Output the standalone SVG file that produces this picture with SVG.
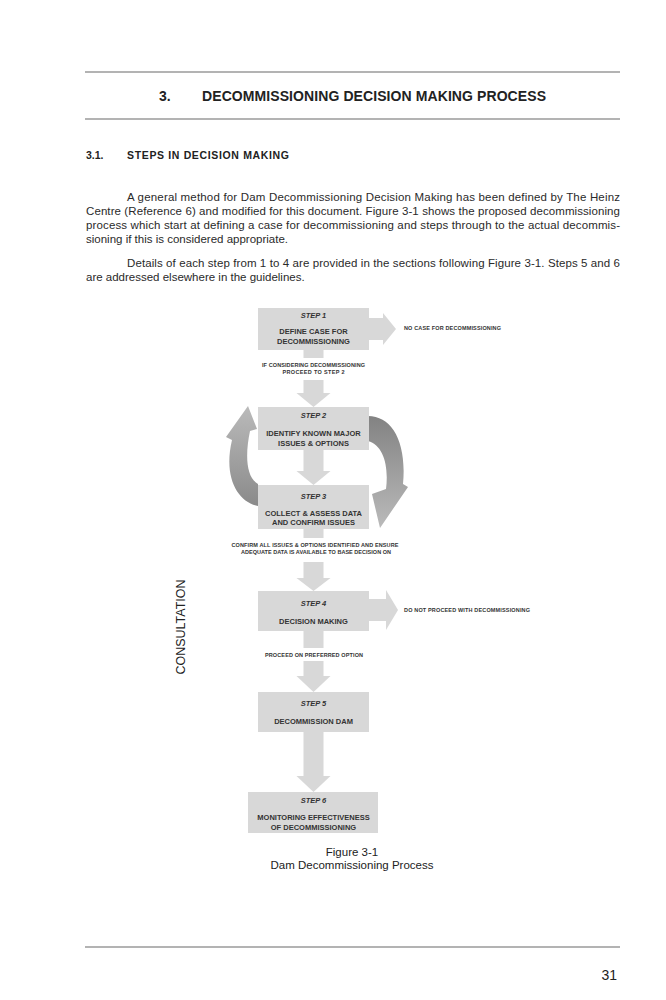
<svg xmlns="http://www.w3.org/2000/svg" width="666" height="1000" viewBox="0 0 666 1000">
<style>
.body{font-family:"Liberation Sans",Arial,sans-serif;font-size:11.5px;fill:#2a2a2a}
.rule{stroke:#9a9a9a;stroke-width:1.5}
.box{fill:#d8d8d8}
.flow{fill:#d8d8d8}
.step{font-family:"Liberation Sans",Arial,sans-serif;font-size:7.5px;font-weight:bold;font-style:italic;fill:#333;text-anchor:middle}
.lbl{font-family:"Liberation Sans",Arial,sans-serif;font-size:7.5px;font-weight:bold;fill:#333;text-anchor:middle}
.small{font-family:"Liberation Sans",Arial,sans-serif;font-size:5.5px;font-weight:bold;fill:#333}
</style>
<defs>
<linearGradient id="gl" x1="0" y1="1" x2="0" y2="0">
<stop offset="0" stop-color="#8a8a8a"/><stop offset="1" stop-color="#bababa"/>
</linearGradient>
<linearGradient id="gr" x1="0" y1="0" x2="0" y2="1">
<stop offset="0" stop-color="#828282"/><stop offset="1" stop-color="#bababa"/>
</linearGradient>
</defs>
<rect width="666" height="1000" fill="#ffffff"/>
<g id="page">
<line class="rule" x1="85" y1="72" x2="620" y2="72"/>
<text x="159" y="101" font-family="Liberation Sans, Arial, sans-serif" font-size="14" font-weight="bold" fill="#222">3.</text>
<text x="202" y="101" font-family="Liberation Sans, Arial, sans-serif" font-size="14" font-weight="bold" fill="#222" textLength="344">DECOMMISSIONING DECISION MAKING PROCESS</text>
<line class="rule" x1="85" y1="119" x2="620" y2="119"/>
<text x="86" y="159" font-family="Liberation Sans, Arial, sans-serif" font-size="10.5" font-weight="bold" fill="#222">3.1.</text>
<text x="127" y="159" font-family="Liberation Sans, Arial, sans-serif" font-size="10.5" font-weight="bold" fill="#222" textLength="162">STEPS IN DECISION MAKING</text>
<text class="body" x="127" y="201" textLength="493" lengthAdjust="spacing">A general method for Dam Decommissioning Decision Making has been defined by The Heinz</text>
<text class="body" x="86" y="215" textLength="534" lengthAdjust="spacing">Centre (Reference 6) and modified for this document. Figure 3-1 shows the proposed decommissioning</text>
<text class="body" x="86" y="229" textLength="534" lengthAdjust="spacing">process which start at defining a case for decommissioning and steps through to the actual decommis-</text>
<text class="body" x="86" y="243">sioning if this is considered appropriate.</text>
<text class="body" x="127" y="267" textLength="493" lengthAdjust="spacing">Details of each step from 1 to 4 are provided in the sections following Figure 3-1. Steps 5 and 6</text>
<text class="body" x="86" y="281">are addressed elsewhere in the guidelines.</text>
<text x="185" y="627" transform="rotate(-90 185 627)" text-anchor="middle" font-family="Liberation Sans, Arial, sans-serif" font-size="12.5" fill="#222">CONSULTATION</text>
<text x="352" y="856" text-anchor="middle" font-family="Liberation Sans, Arial, sans-serif" font-size="11.5" fill="#222">Figure 3-1</text>
<text x="352" y="869" text-anchor="middle" font-family="Liberation Sans, Arial, sans-serif" font-size="11.5" fill="#222">Dam Decommissioning Process</text>
<line class="rule" x1="85" y1="947" x2="620" y2="947"/>
<text x="617" y="980" text-anchor="end" font-family="Liberation Sans, Arial, sans-serif" font-size="14" fill="#222">31</text>
</g>
<g id="connectors">
<rect class="flow" x="303.5" y="349" width="20" height="9"/>
<polygon class="flow" points="303.5,380 323.5,380 323.5,393 330.5,393 313.5,407 296.5,393 303.5,393"/>
<polygon class="flow" points="303.5,449 323.5,449 323.5,471 330.5,471 313.5,485 296.5,471 303.5,471"/>
<rect class="flow" x="303.5" y="528" width="20" height="10"/>
<polygon class="flow" points="303.5,562 323.5,562 323.5,578 330.5,578 313.5,591 296.5,578 303.5,578"/>
<rect class="flow" x="303.5" y="630" width="20" height="18"/>
<polygon class="flow" points="303.5,661 323.5,661 323.5,676 330.5,676 313.5,692 296.5,676 303.5,676"/>
<polygon class="flow" points="303.5,731 323.5,731 323.5,776 330.5,776 313.5,792 296.5,776 303.5,776"/>
<polygon class="flow" points="368,318 383,318 383,313 396,329 383,345 383,340 368,340"/>
<polygon class="flow" points="368,599 386,599 386,590 398,610 386,630 386,621 368,621"/>
<path fill="url(#gl)" d="M258,506 C238,502 223,478 232,440 L226,437 L248,406 L257,429 L250,431 C245,455 246,477 258,484 Z"/>
<path fill="url(#gr)" d="M368,416 C392,416 407,442 403,484 L408,487 L380,528 L372,494 L386,489 C389,465 383,445 368,441 Z"/>
<text class="small" x="404" y="330" textLength="97">NO CASE FOR DECOMMISSIONING</text>
<text class="small" x="313.5" y="366.5" text-anchor="middle" textLength="103">IF CONSIDERING DECOMMISSIONING</text>
<text class="small" x="313.5" y="373.5" text-anchor="middle" textLength="62">PROCEED TO STEP 2</text>
<text class="small" x="315" y="546.5" text-anchor="middle" textLength="167">CONFIRM ALL ISSUES &amp; OPTIONS IDENTIFIED AND ENSURE</text>
<text class="small" x="316" y="553.5" text-anchor="middle" textLength="150">ADEQUATE DATA IS AVAILABLE TO BASE DECISION ON</text>
<text class="small" x="404" y="612" textLength="126">DO NOT PROCEED WITH DECOMMISSIONING</text>
<text class="small" x="314" y="657" text-anchor="middle" textLength="98">PROCEED ON PREFERRED OPTION</text>
</g>
<g id="step1">
<rect class="box" x="258" y="308" width="111" height="42"/>
<text class="step" x="313.5" y="318">STEP 1</text>
<text class="lbl" x="313.5" y="334">DEFINE CASE FOR</text>
<text class="lbl" x="313.5" y="344">DECOMMISSIONING</text>
</g>
<g id="step2">
<rect class="box" x="258" y="407" width="111" height="43"/>
<text class="step" x="313.5" y="418">STEP 2</text>
<text class="lbl" x="313.5" y="436">IDENTIFY KNOWN MAJOR</text>
<text class="lbl" x="313.5" y="446">ISSUES &amp; OPTIONS</text>
</g>
<g id="step3">
<rect class="box" x="258" y="485" width="111" height="44"/>
<text class="step" x="313.5" y="499">STEP 3</text>
<text class="lbl" x="313.5" y="516">COLLECT &amp; ASSESS DATA</text>
<text class="lbl" x="313.5" y="525">AND CONFIRM ISSUES</text>
</g>
<g id="step4">
<rect class="box" x="258" y="591" width="111" height="40"/>
<text class="step" x="313.5" y="606">STEP 4</text>
<text class="lbl" x="313.5" y="624">DECISION MAKING</text>
</g>
<g id="step5">
<rect class="box" x="258" y="692" width="111" height="40"/>
<text class="step" x="313.5" y="706">STEP 5</text>
<text class="lbl" x="313.5" y="724">DECOMMISSION DAM</text>
</g>
<g id="step6">
<rect class="box" x="248" y="792" width="130" height="41"/>
<text class="step" x="313.5" y="803">STEP 6</text>
<text class="lbl" x="313.5" y="820">MONITORING EFFECTIVENESS</text>
<text class="lbl" x="313.5" y="830">OF DECOMMISSIONING</text>
</g>
</svg>
